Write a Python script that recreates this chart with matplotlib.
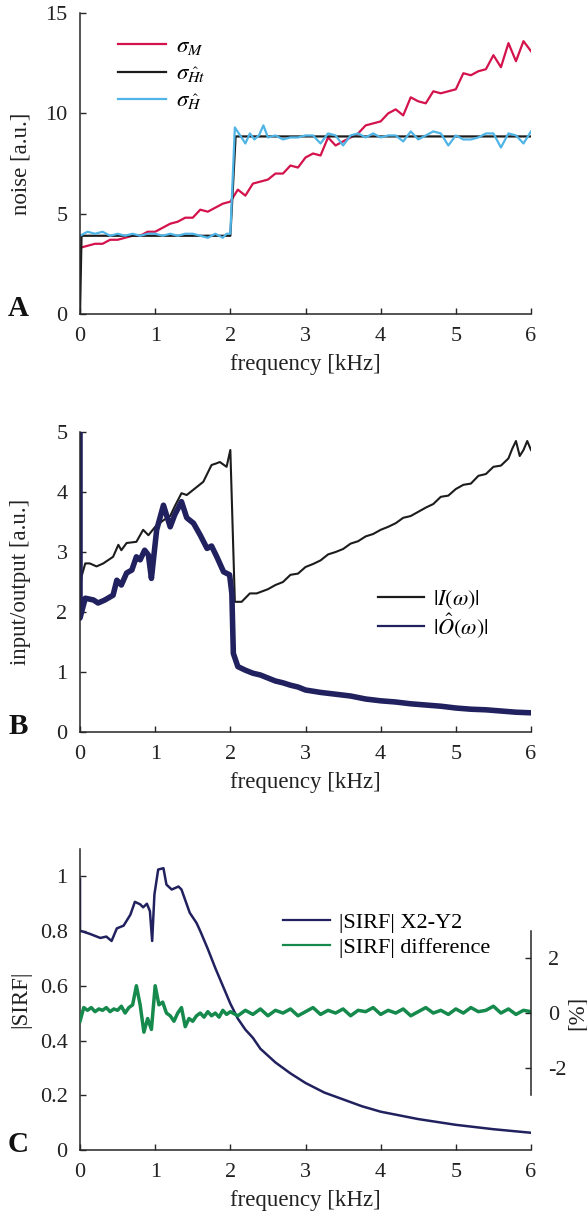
import numpy as np
import matplotlib.pyplot as plt

plt.rcParams['font.family'] = ['Liberation Serif', 'DejaVu Serif']
plt.rcParams['mathtext.fontset'] = 'stix'
plt.rcParams['axes.unicode_minus'] = False
plt.rcParams['font.size'] = 16

# ---- panel A: noise ----
fA = [0.0, 0.1, 0.2, 0.3, 0.4, 0.5, 0.6, 0.7, 0.8, 0.9, 1.0, 1.1, 1.2, 1.3, 1.4, 1.5,
      1.6, 1.7, 1.8, 1.9, 2.0, 2.1, 2.2, 2.3, 2.4, 2.5, 2.6, 2.7, 2.8, 2.9, 3.0, 3.1,
      3.2, 3.3, 3.4, 3.5, 3.6, 3.7, 3.8, 3.9, 4.0, 4.1, 4.2, 4.3, 4.4, 4.5, 4.6, 4.7,
      4.8, 4.9, 5.0, 5.1, 5.2, 5.3, 5.4, 5.5, 5.6, 5.7, 5.8, 5.9, 6.0]
sigma_M = [3.3, 3.4, 3.5, 3.5, 3.7, 3.7, 3.8, 3.9, 3.9, 4.1, 4.1, 4.3, 4.5, 4.6, 4.8, 4.8,
           5.2, 5.1, 5.3, 5.5, 5.6, 6.2, 5.9, 6.5, 6.6, 6.7, 7.0, 7.0, 7.4, 7.3, 7.8, 8.0,
           7.9, 8.8, 8.4, 8.6, 8.8, 9.0, 9.4, 9.5, 9.6, 10.0, 10.2, 9.9, 10.8, 10.6, 10.5, 11.1,
           11.0, 11.1, 11.2, 12.0, 11.9, 12.1, 12.2, 12.9, 12.3, 13.5, 12.6, 13.6, 13.1]
fH = [0.0, 0.1, 0.2, 0.3, 0.4, 0.5, 0.6, 0.7, 0.8, 0.9, 1.0, 1.1, 1.2, 1.3, 1.4, 1.5,
      1.6, 1.7, 1.8, 1.9, 1.95, 2.0, 2.06, 2.13, 2.2, 2.26, 2.32, 2.38, 2.44, 2.5, 2.6, 2.7,
      2.8, 2.9, 3.0, 3.1, 3.2, 3.3, 3.4, 3.5, 3.6, 3.7, 3.8, 3.9, 4.0, 4.1, 4.2, 4.3,
      4.4, 4.5, 4.6, 4.7, 4.8, 4.9, 5.0, 5.1, 5.2, 5.3, 5.4, 5.5, 5.6, 5.7, 5.8, 5.9, 6.0]
sigma_H = [3.9, 4.1, 4.0, 4.1, 3.9, 4.0, 3.9, 4.0, 3.9, 4.0, 4.0, 3.9, 4.0, 3.9, 4.0, 4.0,
           3.9, 3.8, 4.0, 3.8, 4.0, 4.0, 9.3, 8.9, 8.5, 9.0, 8.7, 8.9, 9.4, 8.8, 8.9, 8.7,
           8.8, 8.8, 8.9, 8.9, 8.5, 9.0, 8.9, 8.4, 8.9, 9.0, 8.8, 9.0, 8.8, 8.9, 8.9, 8.6,
           9.1, 8.7, 8.9, 9.1, 9.0, 8.4, 8.9, 8.7, 8.7, 8.8, 9.0, 9.0, 8.3, 9.0, 8.9, 8.5, 9.1]
fHt = [0.0, 0.02, 2.0, 2.07, 6.0]
sigma_Ht = [0.0, 3.9, 3.9, 8.85, 8.85]

# ---- panel B: input / output ----
fI = [0.0, 0.02, 0.07, 0.13, 0.22, 0.31, 0.44, 0.51, 0.55, 0.62, 0.75, 0.84, 0.91, 1.0,
      1.11, 1.2, 1.26, 1.35, 1.42, 1.53, 1.64, 1.75, 1.82, 1.86, 1.95, 2.0, 2.06, 2.15,
      2.26, 2.35, 2.5, 2.6, 2.7, 2.8, 2.9, 3.0, 3.1, 3.2, 3.3, 3.4, 3.5, 3.6, 3.7, 3.8,
      3.9, 4.0, 4.1, 4.2, 4.3, 4.4, 4.5, 4.6, 4.7, 4.8, 4.9, 5.0, 5.1, 5.2, 5.3, 5.4,
      5.5, 5.6, 5.7, 5.75, 5.8, 5.85, 5.9, 5.95, 6.0]
I_mag = [2.3, 2.59, 2.81, 2.81, 2.76, 2.81, 2.92, 3.12, 3.03, 3.15, 3.17, 3.37, 3.28, 3.42,
         3.53, 3.6, 3.76, 3.98, 3.95, 4.06, 4.17, 4.45, 4.48, 4.5, 4.42, 4.7, 2.17, 2.17,
         2.31, 2.31, 2.38, 2.45, 2.5, 2.62, 2.64, 2.75, 2.8, 2.86, 2.96, 3.0, 3.05, 3.14, 3.18, 3.26,
         3.3, 3.37, 3.42, 3.48, 3.57, 3.6, 3.67, 3.74, 3.8, 3.92, 3.94, 4.05, 4.12, 4.14, 4.27, 4.3,
         4.42, 4.44, 4.56, 4.72, 4.85, 4.6, 4.7, 4.85, 4.7]
fO = [0.0, 0.0, 0.07, 0.18, 0.24, 0.33, 0.44, 0.49, 0.55, 0.62, 0.69, 0.75, 0.8, 0.86,
      0.91, 0.95, 1.02, 1.11, 1.2, 1.26, 1.35, 1.42, 1.51, 1.6, 1.69, 1.75, 1.82, 1.91,
      1.99, 2.02, 2.04, 2.1, 2.2, 2.3, 2.4, 2.5, 2.6, 2.7, 2.8, 2.9, 3.0, 3.2, 3.4, 3.6,
      3.8, 4.0, 4.2, 4.4, 4.6, 4.8, 5.0, 5.2, 5.4, 5.6, 5.8, 6.0]
O_mag = [5.0, 1.9, 2.23, 2.2, 2.15, 2.2, 2.28, 2.53, 2.45, 2.65, 2.7, 2.92, 2.87, 3.03,
         2.95, 2.56, 3.37, 3.78, 3.42, 3.62, 3.84, 3.57, 3.48, 3.28, 3.06, 3.1, 2.92, 2.67,
         2.62, 2.31, 1.31, 1.09, 1.03, 0.98, 0.95, 0.9, 0.85, 0.82, 0.78, 0.75, 0.7, 0.66, 0.63, 0.6,
         0.55, 0.52, 0.5, 0.47, 0.45, 0.43, 0.4, 0.38, 0.37, 0.35, 0.33, 0.32]

# ---- panel C: SIRF ----
fS = [0.0, 0.0, 0.02, 0.13, 0.27, 0.35, 0.42, 0.49, 0.58, 0.67, 0.73, 0.8, 0.84, 0.89,
      0.93, 0.96, 0.99, 1.04, 1.11, 1.15, 1.22, 1.31, 1.35, 1.46, 1.55, 1.6, 1.7, 1.8,
      1.9, 2.0, 2.1, 2.2, 2.3, 2.4, 2.5, 2.6, 2.8, 3.0, 3.25, 3.5, 3.75, 4.0, 4.5, 5.0,
      5.5, 6.0]
sirf = [0.99, 0.8, 0.8, 0.79, 0.775, 0.78, 0.764, 0.81, 0.82, 0.86, 0.907, 0.898, 0.887, 0.9,
        0.873, 0.764, 0.934, 1.025, 1.03, 0.97, 0.952, 0.963, 0.952, 0.867, 0.83, 0.8, 0.735, 0.665,
        0.6, 0.535, 0.48, 0.44, 0.41, 0.37, 0.345, 0.32, 0.28, 0.245, 0.21, 0.185, 0.16, 0.14, 0.113, 0.092,
        0.076, 0.063]
fD = [0.0, 0.05, 0.1, 0.15, 0.2, 0.25, 0.3, 0.35, 0.4, 0.45, 0.5, 0.55, 0.6, 0.65, 0.7,
      0.75, 0.8, 0.85, 0.9, 0.95, 1.0, 1.05, 1.1, 1.15, 1.2, 1.25, 1.3, 1.35, 1.4, 1.45,
      1.5, 1.55, 1.6, 1.65, 1.7, 1.75, 1.8, 1.85, 1.9, 1.95, 2.0, 2.1, 2.2, 2.3, 2.4,
      2.5, 2.6, 2.7, 2.8, 2.9, 3.0, 3.1, 3.2, 3.3, 3.4, 3.5, 3.6, 3.7, 3.8, 3.9, 4.0,
      4.1, 4.2, 4.3, 4.4, 4.5, 4.6, 4.7, 4.8, 4.9, 5.0, 5.1, 5.2, 5.3, 5.4, 5.5, 5.6,
      5.7, 5.8, 5.9, 6.0]
diff = [-0.3, 0.2, 0.1, 0.2, 0.05, 0.15, 0.1, 0.2, 0.05, 0.15, 0.1, 0.25, 0.0, 0.2, 0.3,
        1.0, 0.3, -0.7, -0.2, -0.6, 1.0, 0.3, 0.4, 0.0, -0.1, -0.3, 0.0, 0.2, -0.5, -0.2,
        -0.3, -0.1, 0.0, -0.15, 0.05, -0.1, 0.0, -0.15, 0.1, -0.05, 0.05, -0.1, 0.1, -0.05, 0.15,
        -0.1, 0.1, 0.0, 0.15, -0.1, 0.05, 0.2, -0.05, 0.1, 0.0, 0.15, -0.1, 0.1, 0.05, 0.2,
        -0.05, 0.1, 0.0, 0.15, -0.1, 0.05, 0.2, 0.0, 0.1, -0.05, 0.15, 0.0, 0.2, 0.05, 0.1,
        0.25, 0.0, 0.15, -0.05, 0.1, 0.05]

ticks_f = [0, 1, 2, 3, 4, 5, 6]
red, blk, lblue, navy, green = '#d4124c', '#1c1c1c', '#4fb4e6', '#21215f', '#158a4c'
spine_c = '#262626'


def style(ax):
    for s in ['top', 'right']:
        ax.spines[s].set_visible(False)
    for s in ['left', 'bottom']:
        ax.spines[s].set_color(spine_c)
        ax.spines[s].set_linewidth(1.1)
    ax.tick_params(direction='in', length=4, width=1.0, color=spine_c, labelcolor='#222222')
    ax.tick_params(axis='x', pad=9)
    ax.tick_params(axis='y', pad=9)
    ax.set_xlim(0, 6)
    ax.set_xticks(ticks_f)
    ax.set_xlabel('frequency [kHz]', fontsize=16.5, color='#222222', labelpad=6)


fig = plt.figure(figsize=(5.87, 12.19), dpi=100)

axA = fig.add_axes([0.1363, 0.7424, 0.7683, 0.2469])
axA.plot(fA, sigma_M, color=red, lw=1.6, label=r'$\sigma_M$')
axA.plot(fHt, sigma_Ht, color=blk, lw=1.6, label=r'$\sigma_{\hat{H}t}$')
axA.plot(fH, sigma_H, color=lblue, lw=1.6, label=r'$\sigma_{\hat{H}}$')
style(axA)
axA.set_ylim(0, 15)
axA.set_yticks([0, 5, 10, 15])
axA.set_ylabel('noise [a.u.]', fontsize=16.5, color='#222222')
axA.legend(loc='upper left', bbox_to_anchor=(0.085, 0.925), frameon=False, borderpad=0,
           borderaxespad=0, handlelength=2.1, handletextpad=0.4, labelspacing=0.3, fontsize=16.5)

axB = fig.add_axes([0.1363, 0.3995, 0.7683, 0.2461])
axB.plot(fI, I_mag, color=blk, lw=1.5, label=r'$|I(\omega)|$')
axB.plot(fO, O_mag, color=navy, lw=4.0, label=r'$|\hat{O}(\omega)|$')
style(axB)
axB.set_ylim(0, 5)
axB.set_yticks([0, 1, 2, 3, 4, 5])
axB.set_ylabel('input/output [a.u.]', fontsize=16.5, color='#222222')
legB = axB.legend(loc='upper left', bbox_to_anchor=(0.66, 0.48), frameon=False, borderpad=0,
                  borderaxespad=0, handlelength=2.1, handletextpad=0.4, labelspacing=0.0, fontsize=16)
for h in legB.get_lines():
    h.set_linewidth(1.6)

axC = fig.add_axes([0.1363, 0.0566, 0.7683, 0.2469])
lC, = axC.plot(fS, sirf, color=navy, lw=1.8)
style(axC)
axC.set_ylim(0, 1.1)
axC.set_yticks([0, 0.2, 0.4, 0.6, 0.8, 1.0])
axC.set_yticklabels(['0', '0.2', '0.4', '0.6', '0.8', '1'])
axC.set_ylabel('|SIRF|', fontsize=16.5, color='#222222')

for ax in (axA, axB, axC):
    ax.yaxis.set_label_coords(-0.108, 0.5)

axD = fig.add_axes([0.1363, 0.1017, 0.7683, 0.1345])
axD.patch.set_alpha(0)
lD, = axD.plot(fD, diff, color=green, lw=2.5)
axD.set_xlim(0, 6)
axD.set_ylim(-3, 3)
for s in ['top', 'left', 'bottom']:
    axD.spines[s].set_visible(False)
axD.spines['right'].set_color(spine_c)
axD.spines['right'].set_linewidth(1.1)
axD.set_xticks([])
axD.yaxis.tick_right()
axD.set_yticks([-2, 0, 2])
axD.tick_params(direction='in', length=4, width=1.0, color=spine_c, labelcolor='#222222', pad=12)
fig.text(577 / 587, 1 - 1013 / 1219, '[%]', fontsize=16.5, color='#222222', rotation=90,
         ha='center', va='center')

legC = axC.legend([lC, lD], ['|SIRF| X2-Y2', '|SIRF| difference'], loc='upper left',
                  bbox_to_anchor=(0.45, 0.79), frameon=False, borderpad=0, borderaxespad=0,
                  handlelength=2.1, handletextpad=0.4, labelspacing=0.2, fontsize=16)
for h in legC.get_lines():
    h.set_linewidth(1.6)

for lab, y in [('A', 308), ('B', 726), ('C', 1144)]:
    fig.text(18 / 587, 1 - y / 1219, lab, fontsize=21, fontweight='bold', ha='center', va='center',
             color='#111111')

fig.savefig('out.png', dpi=100)
